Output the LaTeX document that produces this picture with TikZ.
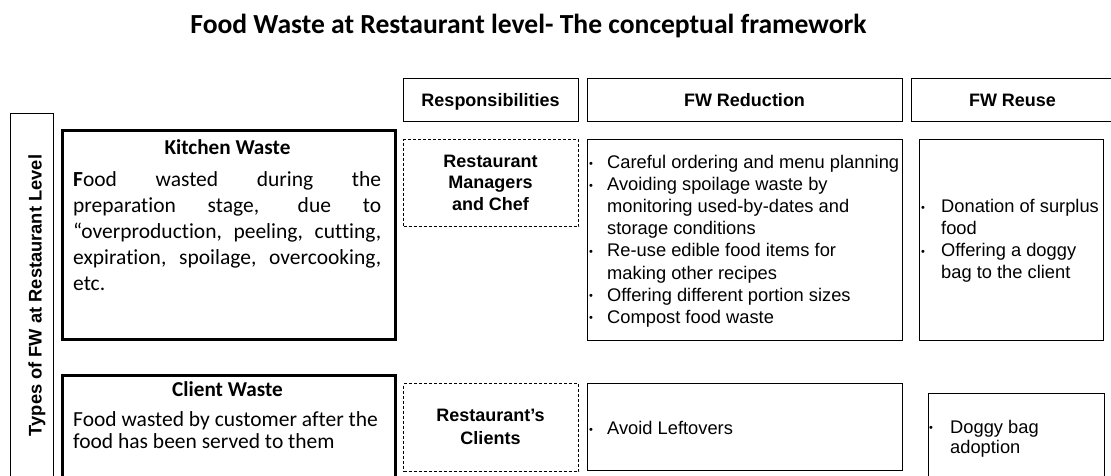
\documentclass[tikz,border=0pt]{standalone}
\usepackage{fontspec}
\setmainfont{Carlito}[Ligatures={TeX,NoCommon}]
\newfontfamily\arialfont{Liberation Sans}
% bullet and hanging indent for the list boxes
\newcommand{\itembul}[1][18pt]{\makebox[#1][l]{\raisebox{1.4pt}{\fontsize{11}{11}\selectfont •}}}
\newcommand{\itemind}[1][18pt]{\hspace*{#1}}
\begin{document}
\begin{tikzpicture}[x=1pt,y=-1pt,
  thinbox/.style={draw=black, line width=1.4pt, inner sep=0pt, anchor=north west},
  heavybox/.style={draw=black, line width=2.8pt, inner sep=0pt, anchor=north west},
  dashbox/.style={draw=black, line width=1.2pt, dash pattern=on 3pt off 2pt, inner sep=0pt, anchor=north west},
  hdr/.style={font=\arialfont\bfseries\fontsize{18}{18}\selectfont, inner sep=0pt, anchor=base},
  who/.style={font=\arialfont\bfseries\fontsize{18}{21.5}\selectfont, inner sep=0pt, align=center, anchor=north},
  items/.style={font=\arialfont\fontsize{18.3}{22.1}\selectfont, inner sep=0pt, align=left, anchor=north west},
  wtitle/.style={font=\bfseries\fontsize{21.2}{26}\selectfont, inner sep=0pt, anchor=base},
  wbody/.style={font=\fontsize{21.5}{26}\selectfont, inner sep=0pt, align=left, anchor=north west},
]
\useasboundingbox (0,0) rectangle (1111,476);
\clip (0,0) rectangle (1111,476);

% title
\node[font=\bfseries\fontsize{27.6}{32}\selectfont, inner sep=0pt, anchor=base] (title) at (528.5,34)
  {Food Waste at Restaurant level- The conceptual framework};

% column headers
\node[thinbox, minimum width=175pt, minimum height=43pt] (hresp) at (403,78) {};
\node[thinbox, minimum width=315pt, minimum height=43pt] (hred) at (587,78) {};
\node[thinbox, minimum width=205pt, minimum height=43pt] (hreuse) at (911,78) {};
\node[hdr] (hresptxt) at (490.5,106.5) {Responsibilities};
\node[hdr] (hredtxt) at (744.5,106.5) {FW Reduction};
\node[hdr] (hreusetxt) at (1012.5,106.2) {FW Reuse};

% side label
\node[thinbox, minimum width=43pt, minimum height=380pt] (side) at (10,113) {};
\node[font=\arialfont\bfseries\fontsize{18.3}{18}\selectfont, inner sep=0pt, rotate=90, anchor=base] (sidetxt)
  at (41.7,295.5) {Types of FW at Restaurant Level};

% kitchen waste row
\node[heavybox, minimum width=333pt, minimum height=209pt] (kitchen) at (61,129) {};
\node[wtitle] (ktitle) at (227.5,155) {Kitchen Waste};
\node[wbody] (kbody) at (73,170) {%
  \rule{0pt}{16pt}\makebox[308pt][s]{\textbf{F}ood wasted during the}\\
  \makebox[308pt][s]{preparation stage, due to}\\
  \makebox[308pt][s]{“overproduction, peeling, cutting,}\\
  \makebox[308pt][s]{expiration, spoilage, overcooking,}\\
  etc.};
\node[dashbox, minimum width=175pt, minimum height=87pt] (mgr) at (403,139) {};
\node[who] (mgrtxt) at (490.5,153) {\rule{0pt}{14pt}Restaurant\\Managers\\and Chef};
\node[thinbox, minimum width=315pt, minimum height=201pt] (red1) at (587,139) {};
\node[items] (red1txt) at (589,154.3) {%
  \rule{0pt}{14pt}\itembul Careful ordering and menu planning\\
  \itembul Avoiding spoilage waste by\\
  \itemind monitoring used-by-dates and\\
  \itemind storage conditions\\
  \itembul Re-use edible food items for\\
  \itemind making other recipes\\
  \itembul Offering different portion sizes\\
  \itembul Compost food waste};
\node[thinbox, minimum width=184pt, minimum height=201pt] (reuse1) at (919,139) {};
\node[items, font=\arialfont\fontsize{18.3}{21.9}\selectfont] (reuse1txt) at (921,198.5) {%
  \rule{0pt}{14pt}\itembul[20pt]Donation of surplus\\
  \itemind[20pt]food\\
  \itembul[20pt]Offering a doggy\\
  \itemind[20pt]bag to the client};

% client waste row
\node[heavybox, minimum width=333pt, minimum height=130pt] (client) at (61,374) {};
\node[wtitle] (ctitle) at (227.5,396.7) {Client Waste};
\node[wbody, font=\fontsize{21.5}{21.6}\selectfont] (cbody) at (73,410.7) {%
  \rule{0pt}{16pt}Food wasted by customer after the\\
  food has been served to them};
\node[dashbox, minimum width=175pt, minimum height=88pt] (clients) at (403,383) {};
\node[who, font=\arialfont\bfseries\fontsize{18}{22.3}\selectfont] (clientstxt) at (490.5,407.7)
  {\rule{0pt}{14pt}Restaurant’s\\Clients};
\node[thinbox, minimum width=315pt, minimum height=87pt] (red2) at (587,383) {};
\node[items, anchor=base west] (red2txt) at (589,434.5) {\itembul Avoid Leftovers};
\node[thinbox, minimum width=176pt, minimum height=110pt] (reuse2) at (928,393) {};
\node[items, font=\arialfont\fontsize{18.3}{20.5}\selectfont] (reuse2txt) at (929,419) {%
  \rule{0pt}{14pt}\itembul[21pt]Doggy bag\\
  \itemind[21pt]adoption};
\end{tikzpicture}
\end{document}
